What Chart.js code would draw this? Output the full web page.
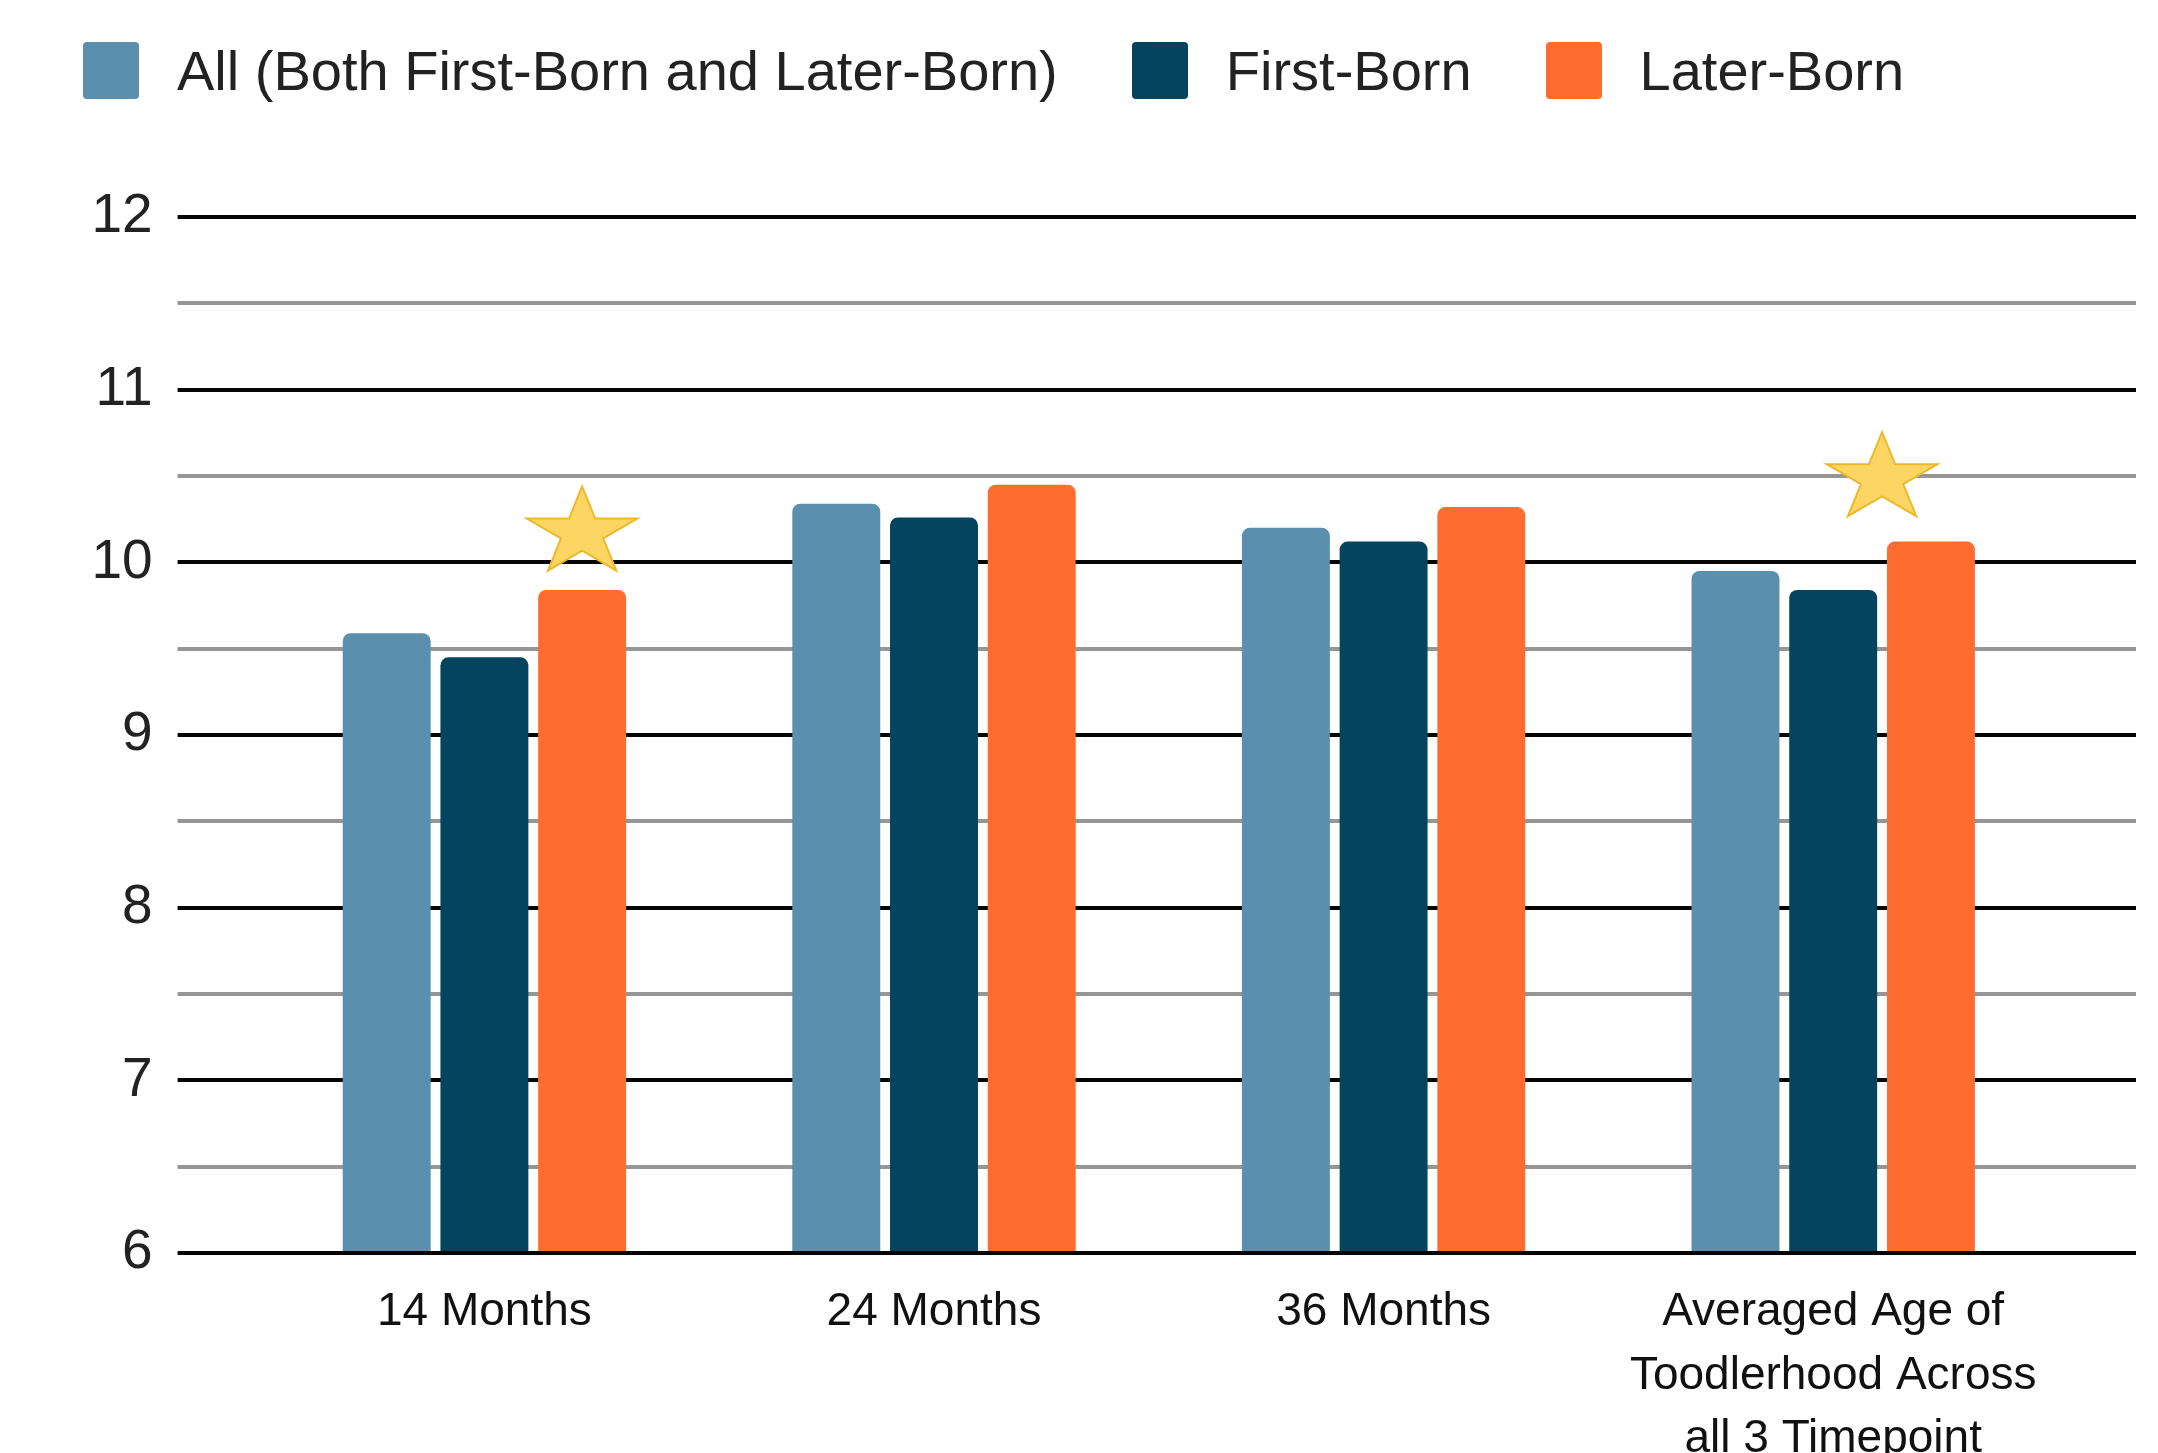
<!DOCTYPE html>
<html>
<head>
<meta charset="utf-8">
<script src="https://cdn.jsdelivr.net/npm/chart.js@4.4.1/dist/chart.umd.min.js"></script>
<style>
  html, body { margin: 0; padding: 0; background: #ffffff; }
  #wrap { position: relative; width: 2158px; height: 1453px; overflow: hidden; }
  #legend {
    position: absolute; left: 83px; top: 38px; z-index: 2;
    display: flex; align-items: center;
    font-family: "Liberation Sans", Arial, sans-serif; font-size: 56px; color: #222222;
    white-space: nowrap;
  }
  .item { display: flex; align-items: center; margin-right: 74px; }
  .swatch { width: 56px; height: 57px; border-radius: 4px; margin-right: 38px; }
  canvas { position: absolute; left: 0; top: 0; }
</style>
</head>
<body>
<div id="wrap">
  <div id="legend"></div>
  <canvas id="chart" width="2158" height="1453"></canvas>
</div>
<script>
// Time points (multi-line labels are arrays of lines)
const categories = [
  ['14 Months'],
  ['24 Months'],
  ['36 Months'],
  ['Averaged Age of', 'Toodlerhood Across', 'all 3 Timepoint']
];
const seriesNames = ['All (Both First-Born and Later-Born)', 'First-Born', 'Later-Born'];
const allValues       = [9.59, 10.34, 10.20, 9.95];
const firstBornValues = [9.45, 10.26, 10.12, 9.84];
const laterBornValues = [9.84, 10.45, 10.32, 10.12];
const yTickValues = [6, 7, 8, 9, 10, 11, 12];
// categories where the first-born / later-born difference is significant
const significantCategories = [0, 3];

const seriesColors = ['#5a90ae', '#04445f', '#fe6c2f'];
const FONT = '"Liberation Sans", Arial, sans-serif';

// HTML legend
const legendEl = document.getElementById('legend');
seriesNames.forEach((name, i) => {
  const item = document.createElement('div');
  item.className = 'item';
  const sw = document.createElement('div');
  sw.className = 'swatch';
  sw.style.background = seriesColors[i];
  const txt = document.createElement('span');
  txt.textContent = name;
  item.appendChild(sw);
  item.appendChild(txt);
  legendEl.appendChild(item);
});

// Horizontal gridlines: black at whole numbers, grey at the halves,
// running a little past the plotting area on both sides.
const gridPlugin = {
  id: 'wideGrid',
  drawLine(chart, v) {
    const { ctx, chartArea, scales: { y } } = chart;
    const py = Math.round(y.getPixelForValue(v));
    const whole = Math.abs(v - Math.round(v)) < 1e-9;
    ctx.save();
    ctx.strokeStyle = whole ? '#050505' : '#969696';
    ctx.lineWidth = 4;
    ctx.beginPath();
    ctx.moveTo(chartArea.left - 82, py);
    ctx.lineTo(chartArea.right + 78, py);
    ctx.stroke();
    ctx.restore();
  },
  beforeDatasetsDraw(chart) {
    const y = chart.scales.y;
    for (let v = y.min + 0.5; v <= y.max + 1e-9; v += 0.5) this.drawLine(chart, v);
  },
  afterDatasetsDraw(chart) {
    this.drawLine(chart, chart.scales.y.min);
  }
};

function drawStar(ctx, cx, cy, R, r, sx) {
  ctx.beginPath();
  for (let i = 0; i < 10; i++) {
    const a = -Math.PI / 2 + i * Math.PI / 5;
    const rad = i % 2 === 0 ? R : r;
    const px = cx + Math.cos(a) * rad * sx;
    const py = cy + Math.sin(a) * rad;
    if (i === 0) ctx.moveTo(px, py); else ctx.lineTo(px, py);
  }
  ctx.closePath();
  ctx.fillStyle = '#fdd563';
  ctx.fill();
  ctx.strokeStyle = '#efb82a';
  ctx.lineWidth = 2;
  ctx.stroke();
}

// Significance stars above the later-born bars
const starPlugin = {
  id: 'sigStars',
  afterDatasetsDraw(chart, args, opts) {
    const ctx = chart.ctx;
    const firstMeta = chart.getDatasetMeta(1);
    const laterMeta = chart.getDatasetMeta(2);
    significantCategories.forEach((c, k) => {
      const later = laterMeta.data[c];
      const first = firstMeta.data[c];
      const anchor = opts.anchors[k];
      const cx = anchor === 'between' ? (first.x + later.x) / 2 : later.x;
      const cy = later.y - opts.lift[k];
      ctx.save();
      drawStar(ctx, cx, cy, opts.outer, opts.outer * 0.382, opts.stretch);
      ctx.restore();
    });
  }
};

const datasets = [allValues, firstBornValues, laterBornValues].map((vals, i) => ({
  label: seriesNames[i],
  data: vals,
  backgroundColor: seriesColors[i],
  borderRadius: 8,
  borderSkipped: 'start',
  categoryPercentage: 0.652,
  barPercentage: 0.9
}));

new Chart(document.getElementById('chart'), {
  type: 'bar',
  data: { labels: categories, datasets },
  plugins: [gridPlugin, starPlugin],
  options: {
    responsive: false,
    devicePixelRatio: 1,
    animation: false,
    layout: { padding: { top: 217, right: 100, left: 0, bottom: 0 } },
    plugins: {
      legend: { display: false },
      tooltip: { enabled: false },
      title: { display: false },
      sigStars: { anchors: ['later', 'between'], lift: [57, 63], outer: 46.5, stretch: 1.25 }
    },
    scales: {
      x: {
        grid: { display: false, drawTicks: false },
        border: { display: false },
        ticks: {
          color: '#111111',
          padding: 28,
          maxRotation: 0,
          autoSkip: false,
          font: { family: FONT, size: 46, lineHeight: 1.38 }
        },
        afterFit(scale) { scale.height = 200; }
      },
      y: {
        min: yTickValues[0],
        max: yTickValues[yTickValues.length - 1],
        afterBuildTicks(scale) { scale.ticks = yTickValues.map(v => ({ value: v })); },
        grid: { display: false, drawTicks: false },
        border: { display: false },
        ticks: {
          color: '#222222',
          padding: 107,
          font: { family: FONT, size: 55 }
        },
        afterFit(scale) { scale.width = 259.6; }
      }
    }
  }
});
</script>
</body>
</html>
